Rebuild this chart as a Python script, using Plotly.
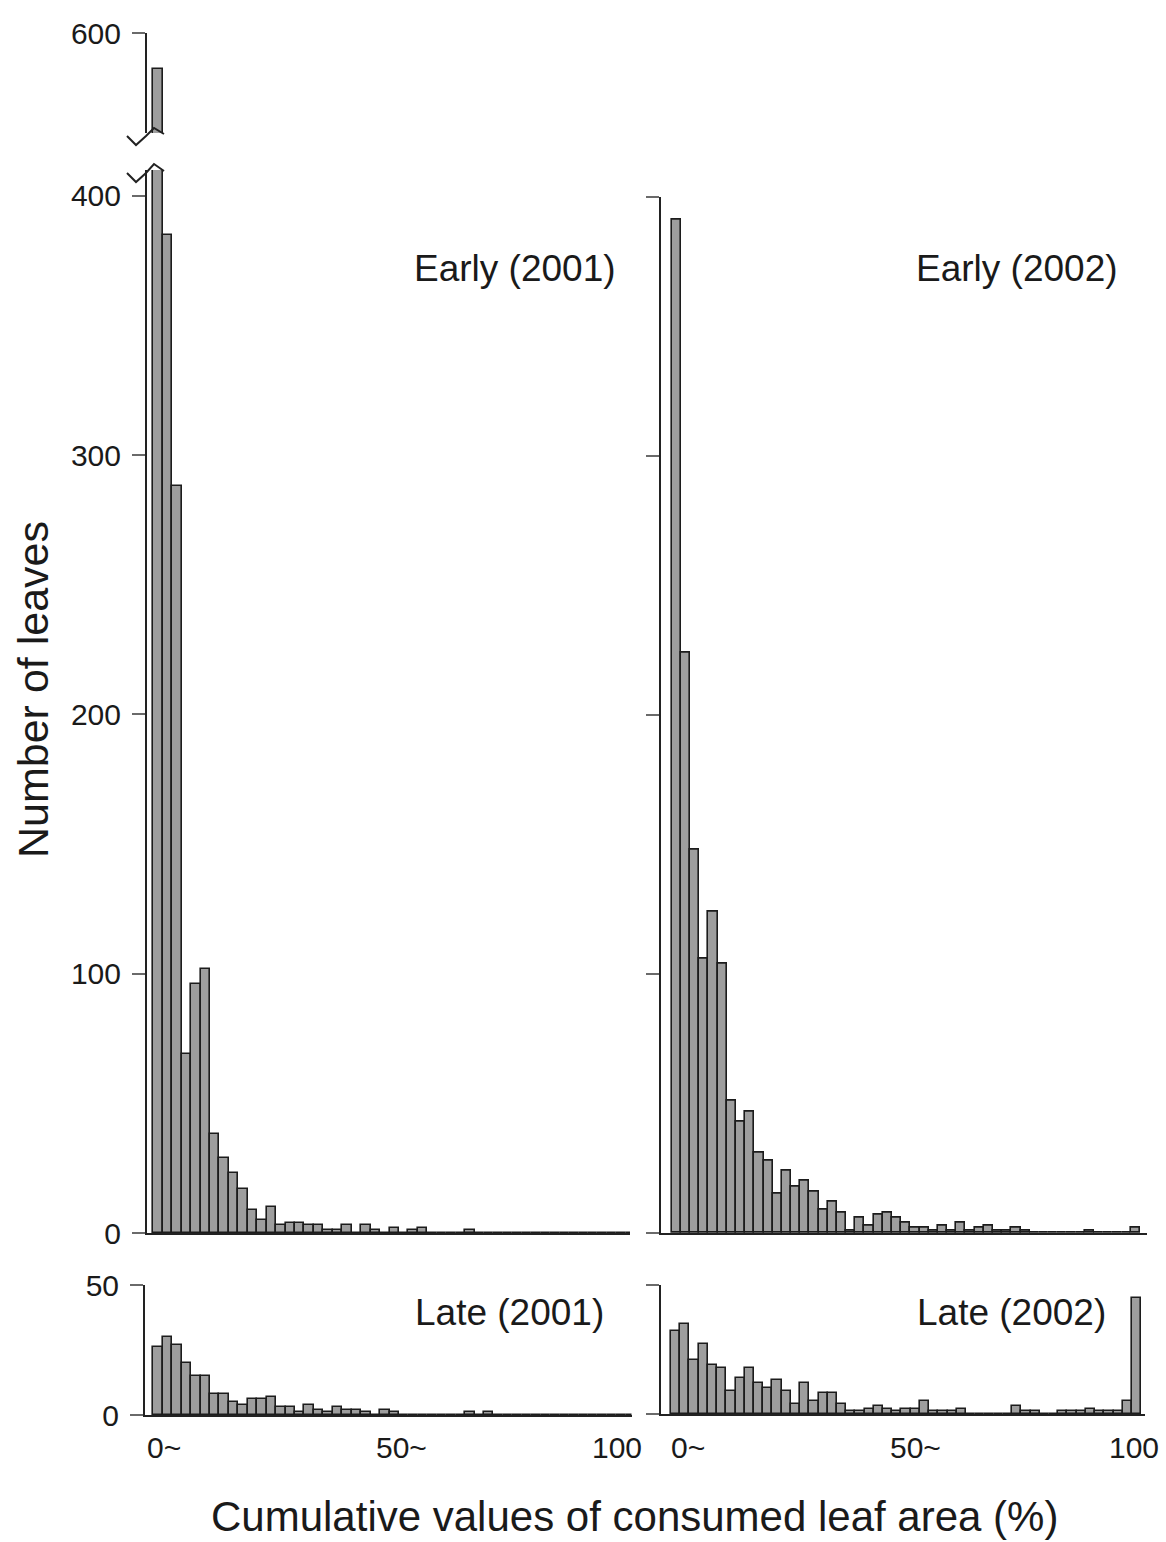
import plotly.graph_objects as go

W, H = 1166, 1542

# ---------------- data (bins of 2 %, 0~ ... 98~, 100) ----------------
bins = list(range(0, 101, 2))

early_2001 = [586, 385, 288, 69, 96, 102, 38, 29, 23, 17,
              9, 5, 10, 3, 4, 4, 3, 3, 1, 1,
              3, 0, 3, 1, 0, 2, 0, 1, 2, 0,
              0, 0, 0, 1, 0, 0, 0, 0, 0, 0,
              0, 0, 0, 0, 0, 0, 0, 0, 0, 0,
              0]
early_2002 = [391, 224, 148, 106, 124, 104, 51, 43, 47, 31,
              28, 15, 24, 18, 20, 16, 9, 12, 8, 1,
              6, 3, 7, 8, 6, 4, 2, 2, 1, 3,
              1, 4, 1, 2, 3, 1, 1, 2, 1, 0,
              0, 0, 0, 0, 0, 1, 0, 0, 0, 0,
              2]
late_2001 = [26, 30, 27, 20, 15, 15, 8, 8, 5, 4,
             6, 6, 7, 3, 3, 1, 4, 2, 1, 3,
             2, 2, 1, 0, 2, 1, 0, 0, 0, 0,
             0, 0, 0, 1, 0, 1, 0, 0, 0, 0,
             0, 0, 0, 0, 0, 0, 0, 0, 0, 0,
             0]
late_2002 = [32, 35, 21, 27, 19, 18, 9, 14, 18, 12,
             10, 13, 9, 4, 12, 5, 8, 8, 4, 1,
             1, 2, 3, 2, 1, 2, 2, 5, 1, 1,
             1, 2, 0, 0, 0, 0, 0, 3, 1, 1,
             0, 0, 1, 1, 1, 2, 1, 1, 1, 5,
             45]

x_tickvals = [0, 50, 100]
x_ticktext = ["0~", "50~", "100"]
panel_labels = ["Early (2001)", "Early (2002)", "Late (2001)", "Late (2002)"]
y_title = "Number of leaves"
x_title = "Cumulative values of consumed leaf area (%)"

# ---------------- helpers ----------------
def px_x(p):
    return p / W

def px_y(p):
    return 1 - p / H

FONT = "Liberation Sans, Arial, Helvetica, sans-serif"
BAR_FILL = "#9e9e9e"
BAR_LINE = "#1c1c1c"
AX = "#222222"
TICKC = "#6a6a6a"
TXT = "#1a1a1a"

fig = go.Figure()

def add_bars(vals, xa, ya):
    fig.add_trace(go.Bar(
        x=bins, y=vals, width=2, xaxis=xa, yaxis=ya,
        marker=dict(color=BAR_FILL, line=dict(color=BAR_LINE, width=1.6)),
        hoverinfo="x+y", showlegend=False))

add_bars(early_2001, "x", "y")     # top-left, lower segment
add_bars(early_2001, "x2", "y2")   # top-left, upper segment (broken axis)
add_bars(early_2002, "x3", "y3")   # top-right
add_bars(late_2001, "x4", "y4")    # bottom-left
add_bars(late_2002, "x5", "y5")    # bottom-right

def xaxis(dom_px, rng, anchor, visible=True):
    return dict(domain=[px_x(dom_px[0]), px_x(dom_px[1])], range=rng, anchor=anchor,
                showgrid=False, zeroline=False, fixedrange=True, automargin=False,
                showline=visible, linecolor=AX, linewidth=2, ticks="",
                showticklabels=False, visible=visible)

def yaxis(dom_px, rng, anchor, tickvals, labels=True):
    return dict(domain=[px_y(dom_px[1]), px_y(dom_px[0])], range=rng, anchor=anchor,
                showgrid=False, zeroline=False, fixedrange=True, automargin=False,
                showline=True, linecolor=AX, linewidth=2,
                ticks="outside", ticklen=13, tickwidth=1.5, tickcolor=TICKC,
                tickvals=tickvals, showticklabels=labels,
                tickfont=dict(family=FONT, size=30, color=TXT),
                ticklabelstandoff=5)

tl_rng = [(147 - 158) / 4.725, (630 - 158) / 4.725]
bl_rng = [(145 - 158) / 4.725, (631.5 - 158) / 4.725]
tr_rng = [(661 - 676.3) / 4.59, (1147 - 676.3) / 4.59]
br_rng = [(661 - 675.6) / 4.61, (1144.5 - 675.6) / 4.61]

fig.update_layout(
    width=W, height=H, autosize=False,
    margin=dict(l=0, r=0, t=0, b=0, pad=0, autoexpand=False),
    paper_bgcolor="white", plot_bgcolor="white",
    bargap=0, showlegend=False,
    font=dict(family=FONT, color=TXT),
    xaxis=xaxis((147, 630), tl_rng, "y"),
    yaxis=yaxis((170, 1233), [0, (1233 - 170) / 2.593], "x", [0, 100, 200, 300, 400]),
    xaxis2=xaxis((147, 630), tl_rng, "y2", visible=False),
    yaxis2=yaxis((33, 133), [600 - 100 / 2.593, 600], "x2", [600]),
    xaxis3=xaxis((661, 1147), tr_rng, "y3"),
    yaxis3=yaxis((196.7, 1233), [0, 400], "x3", [0, 100, 200, 300, 400], labels=False),
    xaxis4=xaxis((145, 631.5), bl_rng, "y4"),
    yaxis4=yaxis((1285, 1415), [0, 50], "x4", [0, 50]),
    xaxis5=xaxis((661, 1144.5), br_rng, "y5"),
    yaxis5=yaxis((1285, 1414), [0, 50], "x5", [0, 50], labels=False),
)

# x tick labels of the bottom panels (placed at the axis values, small offsets)
for xref, shifts in [("x4", [6, 7, -14]), ("x5", [12, 9, -3])]:
    for v, t, s in zip(x_tickvals, x_ticktext, shifts):
        fig.add_annotation(text=t, x=v, xref=xref, y=px_y(1447), yref="paper",
                           xshift=s, xanchor="center", yanchor="middle", showarrow=False,
                           font=dict(family=FONT, size=30, color=TXT))

for txt, xr, yc in [(panel_labels[0], 618, 268), (panel_labels[1], 1120, 268),
                    (panel_labels[2], 606, 1312), (panel_labels[3], 1108, 1312)]:
    fig.add_annotation(text=txt, x=px_x(xr), y=px_y(yc), xref="paper", yref="paper",
                       xanchor="right", yanchor="middle", showarrow=False,
                       font=dict(family=FONT, size=37, color=TXT))

fig.add_annotation(text=y_title, x=px_x(33), y=px_y(690), xref="paper", yref="paper",
                   textangle=-90, showarrow=False, xanchor="center", yanchor="middle",
                   font=dict(family=FONT, size=43, color=TXT))
fig.add_annotation(text=x_title, x=px_x(634), y=0, xref="paper", yref="paper",
                   showarrow=False, xanchor="center", yanchor="bottom",
                   font=dict(family=FONT, size=42, color=TXT))

def path(pts):
    s = "M %f,%f" % (px_x(pts[0][0]), px_y(pts[0][1]))
    for p in pts[1:]:
        s += " L %f,%f" % (px_x(p[0]), px_y(p[1]))
    return s

for pts in [[(127, 136), (136, 145), (146, 136), (154, 128), (164, 134)],
            [(127, 173), (136, 182), (146, 173), (154, 164), (164, 171)]]:
    fig.add_shape(type="path", path=path(pts), xref="paper", yref="paper",
                  line=dict(color=AX, width=2))

fig.write_html("out.html")
